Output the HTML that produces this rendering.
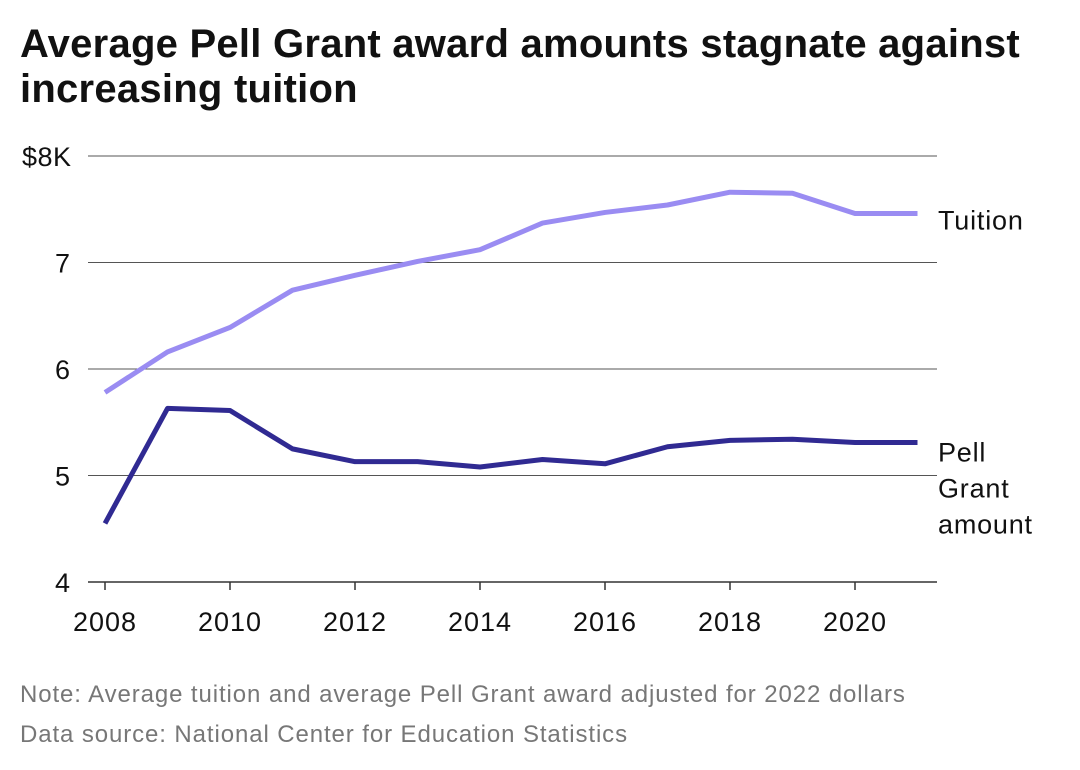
<!DOCTYPE html>
<html><head><meta charset="utf-8"><style>
body{margin:0;background:#fff;font-family:"Liberation Sans",sans-serif;}
#wrap{position:relative;width:1080px;height:770px;overflow:hidden;}
h1{position:absolute;left:20px;top:22px;margin:0;font-size:40px;line-height:45px;font-weight:bold;color:#111;letter-spacing:0.25px;}
.note{position:absolute;left:20px;font-size:24px;color:#777;letter-spacing:0.9px;}
</style></head><body>
<div id="wrap">
<h1>Average Pell Grant award amounts stagnate against<br>increasing tuition</h1>
<svg id="chart" width="1080" height="770" style="position:absolute;left:0;top:0"></svg>
<div class="note" style="top:681px">Note: Average tuition and average Pell Grant award adjusted for 2022 dollars</div>
<div class="note" style="top:721px">Data source: National Center for Education Statistics</div>
</div>
<script>
const years=[2008,2009,2010,2011,2012,2013,2014,2015,2016,2017,2018,2019,2020,2021];
const tuition=[5.78,6.16,6.39,6.74,6.88,7.01,7.12,7.37,7.47,7.54,7.66,7.65,7.46,7.46];
const pell=[4.55,5.63,5.61,5.25,5.13,5.13,5.08,5.15,5.11,5.27,5.33,5.34,5.31,5.31];
const yTicks=[4,5,6,7,8];
const yTickLabels=["4","5","6","7","$8K"];
const xTicks=[2008,2010,2012,2014,2016,2018,2020];
const NS="http://www.w3.org/2000/svg";
const svg=document.getElementById('chart');
const x=v=>105+(v-2008)*62.5;
const y=v=>582-(v-4)*106.5;
function el(t,a,p){const e=document.createElementNS(NS,t);for(const k in a)e.setAttribute(k,a[k]);(p||svg).appendChild(e);return e;}
yTicks.forEach((t,i)=>{
 const g=el('line',{x1:88,x2:937,y1:y(t),y2:y(t),stroke:i==0?'#333':'#555','stroke-width':i==0?1.5:1});
 
 
 const tx=el('text',{x:i==4?22:55,y:y(t)+10,'font-size':27,fill:'#111','letter-spacing':i==4?0.5:0});
 tx.textContent=yTickLabels[i];
 
 
});
xTicks.forEach(t=>{
 const l=el('line',{x1:x(t),x2:x(t),y1:582,y2:590,stroke:'#333','stroke-width':1.5});
 
 
 const tx=el('text',{x:x(t),y:631,'font-size':27,fill:'#111','text-anchor':'middle','letter-spacing':1});
 tx.textContent=t;
 
 
});
function series(vals,color,name){
 const p=el('polyline',{points:vals.map((v,i)=>x(years[i])+','+y(v)).join(' '),fill:'none',stroke:color,'stroke-width':5,'stroke-linejoin':'round'});
 
 
}
series(tuition,'#9a8cf2','tuition-line');
series(pell,'#302a92','pell-grant-line');
function lbl(lines,yy,name){
 const t=el('text',{x:938,y:yy,'font-size':27,fill:'#111','letter-spacing':0.8});
 lines.forEach((s,i)=>{const ts=el('tspan',{x:938,dy:i?36:0},t);ts.textContent=s;});
 
 
}
lbl(['Tuition'],y(tuition[13])+16,'tuition-label');
lbl(['Pell','Grant','amount'],y(pell[13])+19,'pell-grant-label');
</script>
</body></html>
